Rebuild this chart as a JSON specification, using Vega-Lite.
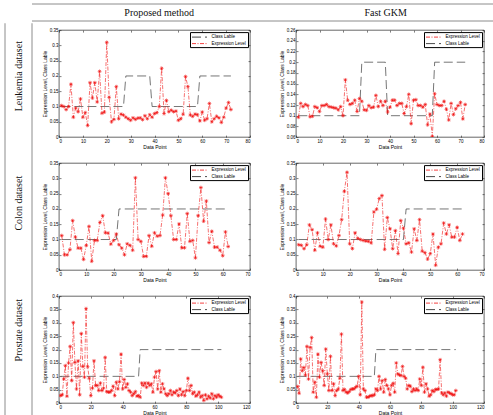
{
  "$schema": "https://vega.github.io/schema/vega-lite/v6.json",
  "background": "white",
  "padding": {"left": 4, "top": 3, "right": 0, "bottom": 0},
  "config": {
    "view": {"stroke": "#000000", "strokeWidth": 0.6},
    "axis": {"labelFont": "Liberation Sans", "labelFontSize": 4.5, "labelColor": "#000000", "titleFont": "Liberation Sans", "titleFontSize": 5, "titleFontWeight": "normal", "titleColor": "#000000", "domain": false, "grid": false, "tickSize": -2, "tickColor": "#000000", "tickWidth": 0.5, "labelPadding": 3, "titlePadding": 2},
    "legend": {"orient": "top-right", "offset": 2, "padding": 1.5, "strokeColor": "#000000", "fillColor": "#ffffff", "cornerRadius": 0, "labelFont": "Liberation Sans", "labelFontSize": 4.5, "labelColor": "#000000", "symbolType": "M-1,0L4,0", "symbolSize": 36, "symbolStrokeWidth": 0.8, "symbolFillColor": "transparent", "labelOffset": 13, "rowPadding": 0.5}
  },
  "datasets": {
    "leuC": [{"x":1,"y":0.1},{"x":27,"y":0.1},{"x":28,"y":0.2},{"x":38,"y":0.2},{"x":39,"y":0.1},{"x":58,"y":0.1},{"x":59,"y":0.2},{"x":72,"y":0.2}],
    "colCP": [{"x":1,"y":0.1},{"x":21,"y":0.1},{"x":22,"y":0.2},{"x":62,"y":0.2}],
    "colCF": [{"x":1,"y":0.1},{"x":40,"y":0.1},{"x":41,"y":0.2},{"x":62,"y":0.2}],
    "proC": [{"x":1,"y":0.1},{"x":50,"y":0.1},{"x":51,"y":0.2},{"x":102,"y":0.2}],
    "leuP": [{"x":1,"y":0.103},{"x":2,"y":0.1},{"x":3,"y":0.09},{"x":4,"y":0.1},{"x":5,"y":0.173},{"x":6,"y":0.065},{"x":7,"y":0.095},{"x":8,"y":0.083},{"x":9,"y":0.125},{"x":10,"y":0.065},{"x":11,"y":0.08},{"x":12,"y":0.038},{"x":13,"y":0.178},{"x":14,"y":0.128},{"x":15,"y":0.178},{"x":16,"y":0.115},{"x":17,"y":0.215},{"x":18,"y":0.078},{"x":19,"y":0.082},{"x":20,"y":0.31},{"x":21,"y":0.13},{"x":22,"y":0.05},{"x":23,"y":0.058},{"x":24,"y":0.165},{"x":25,"y":0.06},{"x":26,"y":0.075},{"x":27,"y":0.072},{"x":28,"y":0.065},{"x":29,"y":0.06},{"x":30,"y":0.055},{"x":31,"y":0.063},{"x":32,"y":0.058},{"x":33,"y":0.062},{"x":34,"y":0.063},{"x":35,"y":0.057},{"x":36,"y":0.07},{"x":37,"y":0.06},{"x":38,"y":0.073},{"x":39,"y":0.065},{"x":40,"y":0.077},{"x":41,"y":0.08},{"x":42,"y":0.1},{"x":43,"y":0.225},{"x":44,"y":0.077},{"x":45,"y":0.12},{"x":46,"y":0.083},{"x":47,"y":0.088},{"x":48,"y":0.083},{"x":49,"y":0.085},{"x":50,"y":0.055},{"x":51,"y":0.06},{"x":52,"y":0.075},{"x":53,"y":0.198},{"x":54,"y":0.165},{"x":55,"y":0.072},{"x":56,"y":0.068},{"x":57,"y":0.075},{"x":58,"y":0.073},{"x":59,"y":0.053},{"x":60,"y":0.082},{"x":61,"y":0.055},{"x":62,"y":0.06},{"x":63,"y":0.11},{"x":64,"y":0.05},{"x":65,"y":0.06},{"x":66,"y":0.068},{"x":67,"y":0.063},{"x":68,"y":0.048},{"x":69,"y":0.065},{"x":70,"y":0.095},{"x":71,"y":0.113},{"x":72,"y":0.09}],
    "leuF": [{"x":1,"y":0.097},{"x":2,"y":0.123},{"x":3,"y":0.117},{"x":4,"y":0.121},{"x":5,"y":0.119},{"x":6,"y":0.098},{"x":7,"y":0.099},{"x":8,"y":0.117},{"x":9,"y":0.115},{"x":10,"y":0.108},{"x":11,"y":0.119},{"x":12,"y":0.119},{"x":13,"y":0.121},{"x":14,"y":0.117},{"x":15,"y":0.116},{"x":16,"y":0.115},{"x":17,"y":0.114},{"x":18,"y":0.111},{"x":19,"y":0.117},{"x":20,"y":0.1},{"x":21,"y":0.167},{"x":22,"y":0.129},{"x":23,"y":0.121},{"x":24,"y":0.123},{"x":25,"y":0.129},{"x":26,"y":0.108},{"x":27,"y":0.132},{"x":28,"y":0.127},{"x":29,"y":0.111},{"x":30,"y":0.11},{"x":31,"y":0.119},{"x":32,"y":0.115},{"x":33,"y":0.116},{"x":34,"y":0.138},{"x":35,"y":0.117},{"x":36,"y":0.127},{"x":37,"y":0.119},{"x":38,"y":0.127},{"x":39,"y":0.107},{"x":40,"y":0.116},{"x":41,"y":0.129},{"x":42,"y":0.129},{"x":43,"y":0.119},{"x":44,"y":0.123},{"x":45,"y":0.123},{"x":46,"y":0.104},{"x":47,"y":0.117},{"x":48,"y":0.14},{"x":49,"y":0.085},{"x":50,"y":0.129},{"x":51,"y":0.13},{"x":52,"y":0.119},{"x":53,"y":0.119},{"x":54,"y":0.116},{"x":55,"y":0.121},{"x":56,"y":0.083},{"x":57,"y":0.103},{"x":58,"y":0.061},{"x":59,"y":0.141},{"x":60,"y":0.121},{"x":61,"y":0.119},{"x":62,"y":0.119},{"x":63,"y":0.127},{"x":64,"y":0.112},{"x":65,"y":0.092},{"x":66,"y":0.123},{"x":67,"y":0.102},{"x":68,"y":0.113},{"x":69,"y":0.119},{"x":70,"y":0.125},{"x":71,"y":0.094},{"x":72,"y":0.121}],
    "colP": [{"x":1,"y":0.113},{"x":2,"y":0.05},{"x":3,"y":0.05},{"x":4,"y":0.067},{"x":5,"y":0.162},{"x":6,"y":0.108},{"x":7,"y":0.072},{"x":8,"y":0.072},{"x":9,"y":0.035},{"x":10,"y":0.081},{"x":11,"y":0.143},{"x":12,"y":0.029},{"x":13,"y":0.097},{"x":14,"y":0.097},{"x":15,"y":0.156},{"x":16,"y":0.178},{"x":17,"y":0.122},{"x":18,"y":0.121},{"x":19,"y":0.085},{"x":20,"y":0.097},{"x":21,"y":0.118},{"x":22,"y":0.083},{"x":23,"y":0.072},{"x":24,"y":0.05},{"x":25,"y":0.086},{"x":26,"y":0.081},{"x":27,"y":0.065},{"x":28,"y":0.302},{"x":29,"y":0.1},{"x":30,"y":0.094},{"x":31,"y":0.045},{"x":32,"y":0.045},{"x":33,"y":0.113},{"x":34,"y":0.078},{"x":35,"y":0.122},{"x":36,"y":0.111},{"x":37,"y":0.113},{"x":38,"y":0.18},{"x":39,"y":0.302},{"x":40,"y":0.25},{"x":41,"y":0.178},{"x":42,"y":0.1},{"x":43,"y":0.1},{"x":44,"y":0.151},{"x":45,"y":0.073},{"x":46,"y":0.073},{"x":47,"y":0.185},{"x":48,"y":0.094},{"x":49,"y":0.097},{"x":50,"y":0.04},{"x":51,"y":0.178},{"x":52,"y":0.27},{"x":53,"y":0.16},{"x":54,"y":0.226},{"x":55,"y":0.09},{"x":56,"y":0.127},{"x":57,"y":0.075},{"x":58,"y":0.075},{"x":59,"y":0.065},{"x":60,"y":0.047},{"x":61,"y":0.125},{"x":62,"y":0.077}],
    "colF": [{"x":1,"y":0.083},{"x":2,"y":0.081},{"x":3,"y":0.07},{"x":4,"y":0.083},{"x":5,"y":0.148},{"x":6,"y":0.132},{"x":7,"y":0.065},{"x":8,"y":0.122},{"x":9,"y":0.078},{"x":10,"y":0.075},{"x":11,"y":0.167},{"x":12,"y":0.1},{"x":13,"y":0.148},{"x":14,"y":0.086},{"x":15,"y":0.079},{"x":16,"y":0.113},{"x":17,"y":0.165},{"x":18,"y":0.258},{"x":19,"y":0.32},{"x":20,"y":0.086},{"x":21,"y":0.07},{"x":22,"y":0.122},{"x":23,"y":0.104},{"x":24,"y":0.1},{"x":25,"y":0.097},{"x":26,"y":0.095},{"x":27,"y":0.094},{"x":28,"y":0.089},{"x":29,"y":0.19},{"x":30,"y":0.199},{"x":31,"y":0.234},{"x":32,"y":0.244},{"x":33,"y":0.068},{"x":34,"y":0.172},{"x":35,"y":0.135},{"x":36,"y":0.07},{"x":37,"y":0.129},{"x":38,"y":0.054},{"x":39,"y":0.162},{"x":40,"y":0.137},{"x":41,"y":0.086},{"x":42,"y":0.089},{"x":43,"y":0.059},{"x":44,"y":0.135},{"x":45,"y":0.097},{"x":46,"y":0.165},{"x":47,"y":0.062},{"x":48,"y":0.057},{"x":49,"y":0.036},{"x":50,"y":0.054},{"x":51,"y":0.118},{"x":52,"y":0.016},{"x":53,"y":0.075},{"x":54,"y":0.086},{"x":55,"y":0.154},{"x":56,"y":0.118},{"x":57,"y":0.148},{"x":58,"y":0.108},{"x":59,"y":0.108},{"x":60,"y":0.14},{"x":61,"y":0.097},{"x":62,"y":0.118}],
    "proP": [{"x":1,"y":0.028},{"x":2,"y":0.031},{"x":3,"y":0.09},{"x":4,"y":0.14},{"x":5,"y":0.026},{"x":6,"y":0.15},{"x":7,"y":0.212},{"x":8,"y":0.084},{"x":9,"y":0.301},{"x":10,"y":0.152},{"x":11,"y":0.053},{"x":12,"y":0.158},{"x":13,"y":0.031},{"x":14,"y":0.26},{"x":15,"y":0.137},{"x":16,"y":0.097},{"x":17,"y":0.353},{"x":18,"y":0.136},{"x":19,"y":0.093},{"x":20,"y":0.028},{"x":21,"y":0.056},{"x":22,"y":0.158},{"x":23,"y":0.066},{"x":24,"y":0.066},{"x":25,"y":0.047},{"x":26,"y":0.075},{"x":27,"y":0.047},{"x":28,"y":0.056},{"x":29,"y":0.171},{"x":30,"y":0.043},{"x":31,"y":0.041},{"x":32,"y":0.041},{"x":33,"y":0.047},{"x":34,"y":0.063},{"x":35,"y":0.028},{"x":36,"y":0.078},{"x":37,"y":0.053},{"x":38,"y":0.08},{"x":39,"y":0.183},{"x":40,"y":0.053},{"x":41,"y":0.088},{"x":42,"y":0.059},{"x":43,"y":0.072},{"x":44,"y":0.047},{"x":45,"y":0.041},{"x":46,"y":0.028},{"x":47,"y":0.035},{"x":48,"y":0.043},{"x":49,"y":0.026},{"x":50,"y":0.028},{"x":51,"y":0.022},{"x":52,"y":0.075},{"x":53,"y":0.066},{"x":54,"y":0.075},{"x":55,"y":0.059},{"x":56,"y":0.075},{"x":57,"y":0.066},{"x":58,"y":0.072},{"x":59,"y":0.041},{"x":60,"y":0.097},{"x":61,"y":0.118},{"x":62,"y":0.053},{"x":63,"y":0.121},{"x":64,"y":0.041},{"x":65,"y":0.072},{"x":66,"y":0.053},{"x":67,"y":0.035},{"x":68,"y":0.028},{"x":69,"y":0.035},{"x":70,"y":0.047},{"x":71,"y":0.031},{"x":72,"y":0.041},{"x":73,"y":0.038},{"x":74,"y":0.047},{"x":75,"y":0.028},{"x":76,"y":0.053},{"x":77,"y":0.031},{"x":78,"y":0.043},{"x":79,"y":0.028},{"x":80,"y":0.047},{"x":81,"y":0.093},{"x":82,"y":0.047},{"x":83,"y":0.066},{"x":84,"y":0.035},{"x":85,"y":0.041},{"x":86,"y":0.026},{"x":87,"y":0.031},{"x":88,"y":0.041},{"x":89,"y":0.022},{"x":90,"y":0.028},{"x":91,"y":0.01},{"x":92,"y":0.031},{"x":93,"y":0.016},{"x":94,"y":0.026},{"x":95,"y":0.019},{"x":96,"y":0.035},{"x":97,"y":0.016},{"x":98,"y":0.028},{"x":99,"y":0.022},{"x":100,"y":0.031},{"x":101,"y":0.026},{"x":102,"y":0.022}],
    "proF": [{"x":1,"y":0.062},{"x":2,"y":0.037},{"x":3,"y":0.165},{"x":4,"y":0.121},{"x":5,"y":0.133},{"x":6,"y":0.105},{"x":7,"y":0.212},{"x":8,"y":0.09},{"x":9,"y":0.208},{"x":10,"y":0.245},{"x":11,"y":0.041},{"x":12,"y":0.078},{"x":13,"y":0.022},{"x":14,"y":0.183},{"x":15,"y":0.097},{"x":16,"y":0.152},{"x":17,"y":0.121},{"x":18,"y":0.066},{"x":19,"y":0.202},{"x":20,"y":0.109},{"x":21,"y":0.047},{"x":22,"y":0.175},{"x":23,"y":0.047},{"x":24,"y":0.072},{"x":25,"y":0.028},{"x":26,"y":0.047},{"x":27,"y":0.053},{"x":28,"y":0.093},{"x":29,"y":0.258},{"x":30,"y":0.047},{"x":31,"y":0.051},{"x":32,"y":0.041},{"x":33,"y":0.038},{"x":34,"y":0.043},{"x":35,"y":0.051},{"x":36,"y":0.053},{"x":37,"y":0.053},{"x":38,"y":0.059},{"x":39,"y":0.063},{"x":40,"y":0.1},{"x":41,"y":0.031},{"x":42,"y":0.378},{"x":43,"y":0.053},{"x":44,"y":0.047},{"x":45,"y":0.022},{"x":46,"y":0.022},{"x":47,"y":0.026},{"x":48,"y":0.028},{"x":49,"y":0.028},{"x":50,"y":0.031},{"x":51,"y":0.053},{"x":52,"y":0.047},{"x":53,"y":0.1},{"x":54,"y":0.053},{"x":55,"y":0.084},{"x":56,"y":0.041},{"x":57,"y":0.088},{"x":58,"y":0.066},{"x":59,"y":0.053},{"x":60,"y":0.031},{"x":61,"y":0.066},{"x":62,"y":0.074},{"x":63,"y":0.041},{"x":64,"y":0.15},{"x":65,"y":0.109},{"x":66,"y":0.105},{"x":67,"y":0.103},{"x":68,"y":0.137},{"x":69,"y":0.1},{"x":70,"y":0.093},{"x":71,"y":0.053},{"x":72,"y":0.066},{"x":73,"y":0.063},{"x":74,"y":0.043},{"x":75,"y":0.053},{"x":76,"y":0.047},{"x":77,"y":0.053},{"x":78,"y":0.047},{"x":79,"y":0.09},{"x":80,"y":0.066},{"x":81,"y":0.134},{"x":82,"y":0.041},{"x":83,"y":0.072},{"x":84,"y":0.053},{"x":85,"y":0.026},{"x":86,"y":0.031},{"x":87,"y":0.047},{"x":88,"y":0.043},{"x":89,"y":0.051},{"x":90,"y":0.051},{"x":91,"y":0.053},{"x":92,"y":0.162},{"x":93,"y":0.038},{"x":94,"y":0.031},{"x":95,"y":0.038},{"x":96,"y":0.026},{"x":97,"y":0.041},{"x":98,"y":0.038},{"x":99,"y":0.035},{"x":100,"y":0.031},{"x":101,"y":0.031},{"x":102,"y":0.047}]
  },
  "spacing": 0,
  "resolve": {"scale": {"color": "independent", "strokeDash": "independent"}, "legend": {"color": "independent", "strokeDash": "independent"}},
  "vconcat": [
    {
      "bounds": "flush",
      "spacing": 0,
      "hconcat": [
        {"width": 27, "height": 17, "view": {"stroke": null}, "data": {"values": [{"edge": "top"}]}, "mark": {"type": "point", "opacity": 0}, "encoding": {"y": {"field": "edge", "type": "nominal", "axis": null}}},
        {
          "width": 462, "height": 17,
          "view": {"stroke": null},
          "layer": [
            {
              "data": {"values": [{"edge": "top"}, {"edge": "bottom"}]},
              "mark": {"type": "rule", "color": "#8c8c8c", "strokeWidth": 1},
              "encoding": {
                "y": {"field": "edge", "type": "nominal", "scale": {"type": "point", "domain": ["top", "mid", "bottom"], "padding": 0}, "axis": null}
              }
            },
            {
              "data": {"values": [{"method": "Proposed method"}, {"method": "Fast GKM"}]},
              "mark": {"type": "text", "font": "Liberation Serif", "fontSize": 10, "color": "#111111"},
              "encoding": {
                "x": {"field": "method", "type": "nominal", "sort": null, "scale": {"type": "point", "padding": 0.52, "align": 0.54}, "axis": null},
                "y": {"datum": "mid", "type": "nominal"},
                "text": {"field": "method"}
              }
            }
          ]
        }
      ]
    },
    {
      "spacing": 8,
      "center": true,
      "resolve": {"scale": {"color": "independent", "strokeDash": "independent"}, "legend": {"color": "independent", "strokeDash": "independent"}},
      "hconcat": [
        {
          "width": 27, "height": 399,
          "view": {"stroke": null},
          "layer": [
            {
              "data": {"values": [{"edge": "left"}, {"edge": "right"}]},
              "mark": {"type": "rule", "color": "#8c8c8c", "strokeWidth": 1},
              "encoding": {
                "x": {"field": "edge", "type": "nominal", "scale": {"type": "point", "domain": ["left", "mid", "right"], "padding": 0}, "axis": null}
              }
            },
            {
              "data": {"values": [{"dataset": "Leukemia dataset", "row": 1}, {"dataset": "Colon dataset", "row": 2}, {"dataset": "Prostate dataset", "row": 3}]},
              "mark": {"type": "text", "angle": 270, "font": "Liberation Serif", "fontSize": 10, "color": "#111111"},
              "encoding": {
                "x": {"datum": "mid", "type": "nominal"},
                "y": {"field": "row", "type": "quantitative", "scale": {"domain": [0.583, 3.725], "reverse": true, "nice": false, "zero": false}, "axis": null},
                "text": {"field": "dataset"}
              }
            }
          ]
        },
        {
          "bounds": "flush",
          "columns": 2,
          "spacing": {"row": 26, "column": 46},
          "resolve": {"scale": {"color": "independent", "strokeDash": "independent"}, "legend": {"color": "independent", "strokeDash": "independent"}},
          "concat": [
            {
              "width": 191, "height": 107,
              "resolve": {"axis": {"x": "independent", "y": "independent"}},
              "layer": [
                {"data": {"name": "leuC"}, "mark": {"type": "line", "strokeWidth": 0.6, "clip": true},
                 "encoding": {
                   "x": {"field": "x", "type": "quantitative", "scale": {"domain": [0, 80], "nice": false, "zero": false}, "axis": {"values": [0,10,20,30,40,50,60,70,80], "title": "Data Point"}},
                   "y": {"field": "y", "type": "quantitative", "scale": {"domain": [0, 0.35], "nice": false, "zero": false}, "axis": {"values": [0,0.05,0.1,0.15,0.2,0.25,0.3,0.35], "format": "~g", "title": "Expression Level, Class Lable"}},
                   "color": {"datum": "Class Lable", "type": "nominal", "scale": {"domain": ["Class Lable", "Expression Level"], "range": ["#1a1a1a", "#f01010"]}, "legend": {"title": null}},
                   "strokeDash": {"datum": "Class Lable", "type": "nominal", "scale": {"domain": ["Class Lable", "Expression Level"], "range": [[9,4],[4,1.5,1,1.5]]}, "legend": {"title": null}}
                 }},
                {"data": {"name": "leuP"}, "mark": {"type": "line", "strokeWidth": 0.6, "clip": true},
                 "encoding": {
                   "x": {"field": "x", "type": "quantitative", "axis": {"orient": "top", "values": [0,10,20,30,40,50,60,70,80], "labels": false, "title": null}},
                   "y": {"field": "y", "type": "quantitative", "axis": {"orient": "right", "values": [0,0.05,0.1,0.15,0.2,0.25,0.3,0.35], "labels": false, "title": null}},
                   "color": {"datum": "Expression Level", "type": "nominal"},
                   "strokeDash": {"datum": "Expression Level", "type": "nominal"}
                 }},
                {"data": {"name": "leuP"}, "mark": {"type": "point", "shape": "M0,-1L0,1M-1,0L1,0M-0.7,-0.7L0.7,0.7M-0.7,0.7L0.7,-0.7", "filled": false, "size": 14, "strokeWidth": 0.6, "opacity": 1, "clip": true},
                 "encoding": {
                   "x": {"field": "x", "type": "quantitative", "axis": null},
                   "y": {"field": "y", "type": "quantitative", "axis": null},
                   "color": {"datum": "Expression Level", "type": "nominal"}
                 }}
              ]
            },
            {
              "width": 188, "height": 107,
              "resolve": {"axis": {"x": "independent", "y": "independent"}},
              "layer": [
                {"data": {"name": "leuC"}, "mark": {"type": "line", "strokeWidth": 0.6, "clip": true},
                 "encoding": {
                   "x": {"field": "x", "type": "quantitative", "scale": {"domain": [0, 80], "nice": false, "zero": false}, "axis": {"values": [0,10,20,30,40,50,60,70,80], "title": "Data Point"}},
                   "y": {"field": "y", "type": "quantitative", "scale": {"domain": [0.06, 0.26], "nice": false, "zero": false}, "axis": {"values": [0.06,0.08,0.1,0.12,0.14,0.16,0.18,0.2,0.22,0.24,0.26], "format": "~g", "title": "Expression Level, Class Lable"}},
                   "color": {"datum": "Class Lable", "type": "nominal", "scale": {"domain": ["Expression Level", "Class Lable"], "range": ["#f01010", "#1a1a1a"]}, "legend": {"title": null}},
                   "strokeDash": {"datum": "Class Lable", "type": "nominal", "scale": {"domain": ["Expression Level", "Class Lable"], "range": [[4,1.5,1,1.5],[9,4]]}, "legend": {"title": null}}
                 }},
                {"data": {"name": "leuF"}, "mark": {"type": "line", "strokeWidth": 0.6, "clip": true},
                 "encoding": {
                   "x": {"field": "x", "type": "quantitative", "axis": {"orient": "top", "values": [0,10,20,30,40,50,60,70,80], "labels": false, "title": null}},
                   "y": {"field": "y", "type": "quantitative", "axis": {"orient": "right", "values": [0.06,0.08,0.1,0.12,0.14,0.16,0.18,0.2,0.22,0.24,0.26], "labels": false, "title": null}},
                   "color": {"datum": "Expression Level", "type": "nominal"},
                   "strokeDash": {"datum": "Expression Level", "type": "nominal"}
                 }},
                {"data": {"name": "leuF"}, "mark": {"type": "point", "shape": "M0,-1L0,1M-1,0L1,0M-0.7,-0.7L0.7,0.7M-0.7,0.7L0.7,-0.7", "filled": false, "size": 14, "strokeWidth": 0.6, "opacity": 1, "clip": true},
                 "encoding": {
                   "x": {"field": "x", "type": "quantitative", "axis": null},
                   "y": {"field": "y", "type": "quantitative", "axis": null},
                   "color": {"datum": "Expression Level", "type": "nominal"}
                 }}
              ]
            },
            {
              "width": 191, "height": 107,
              "resolve": {"axis": {"x": "independent", "y": "independent"}},
              "layer": [
                {"data": {"name": "colCP"}, "mark": {"type": "line", "strokeWidth": 0.6, "clip": true},
                 "encoding": {
                   "x": {"field": "x", "type": "quantitative", "scale": {"domain": [0, 70], "nice": false, "zero": false}, "axis": {"values": [0,10,20,30,40,50,60,70], "title": "Data Point"}},
                   "y": {"field": "y", "type": "quantitative", "scale": {"domain": [0, 0.35], "nice": false, "zero": false}, "axis": {"values": [0,0.05,0.1,0.15,0.2,0.25,0.3,0.35], "format": "~g", "title": "Expression Level, Class Lable"}},
                   "color": {"datum": "Class Lable", "type": "nominal", "scale": {"domain": ["Expression Level", "Class Lable"], "range": ["#f01010", "#1a1a1a"]}, "legend": {"title": null}},
                   "strokeDash": {"datum": "Class Lable", "type": "nominal", "scale": {"domain": ["Expression Level", "Class Lable"], "range": [[4,1.5,1,1.5],[9,4]]}, "legend": {"title": null}}
                 }},
                {"data": {"name": "colP"}, "mark": {"type": "line", "strokeWidth": 0.6, "clip": true},
                 "encoding": {
                   "x": {"field": "x", "type": "quantitative", "axis": {"orient": "top", "values": [0,10,20,30,40,50,60,70], "labels": false, "title": null}},
                   "y": {"field": "y", "type": "quantitative", "axis": {"orient": "right", "values": [0,0.05,0.1,0.15,0.2,0.25,0.3,0.35], "labels": false, "title": null}},
                   "color": {"datum": "Expression Level", "type": "nominal"},
                   "strokeDash": {"datum": "Expression Level", "type": "nominal"}
                 }},
                {"data": {"name": "colP"}, "mark": {"type": "point", "shape": "M0,-1L0,1M-1,0L1,0M-0.7,-0.7L0.7,0.7M-0.7,0.7L0.7,-0.7", "filled": false, "size": 14, "strokeWidth": 0.6, "opacity": 1, "clip": true},
                 "encoding": {
                   "x": {"field": "x", "type": "quantitative", "axis": null},
                   "y": {"field": "y", "type": "quantitative", "axis": null},
                   "color": {"datum": "Expression Level", "type": "nominal"}
                 }}
              ]
            },
            {
              "width": 188, "height": 107,
              "resolve": {"axis": {"x": "independent", "y": "independent"}},
              "layer": [
                {"data": {"name": "colCF"}, "mark": {"type": "line", "strokeWidth": 0.6, "clip": true},
                 "encoding": {
                   "x": {"field": "x", "type": "quantitative", "scale": {"domain": [0, 70], "nice": false, "zero": false}, "axis": {"values": [0,10,20,30,40,50,60,70], "title": "Data Point"}},
                   "y": {"field": "y", "type": "quantitative", "scale": {"domain": [0, 0.35], "nice": false, "zero": false}, "axis": {"values": [0,0.05,0.1,0.15,0.2,0.25,0.3,0.35], "format": "~g", "title": "Expression Level, Class Lable"}},
                   "color": {"datum": "Class Lable", "type": "nominal", "scale": {"domain": ["Expression Level", "Class Lable"], "range": ["#f01010", "#1a1a1a"]}, "legend": {"title": null}},
                   "strokeDash": {"datum": "Class Lable", "type": "nominal", "scale": {"domain": ["Expression Level", "Class Lable"], "range": [[4,1.5,1,1.5],[9,4]]}, "legend": {"title": null}}
                 }},
                {"data": {"name": "colF"}, "mark": {"type": "line", "strokeWidth": 0.6, "clip": true},
                 "encoding": {
                   "x": {"field": "x", "type": "quantitative", "axis": {"orient": "top", "values": [0,10,20,30,40,50,60,70], "labels": false, "title": null}},
                   "y": {"field": "y", "type": "quantitative", "axis": {"orient": "right", "values": [0,0.05,0.1,0.15,0.2,0.25,0.3,0.35], "labels": false, "title": null}},
                   "color": {"datum": "Expression Level", "type": "nominal"},
                   "strokeDash": {"datum": "Expression Level", "type": "nominal"}
                 }},
                {"data": {"name": "colF"}, "mark": {"type": "point", "shape": "M0,-1L0,1M-1,0L1,0M-0.7,-0.7L0.7,0.7M-0.7,0.7L0.7,-0.7", "filled": false, "size": 14, "strokeWidth": 0.6, "opacity": 1, "clip": true},
                 "encoding": {
                   "x": {"field": "x", "type": "quantitative", "axis": null},
                   "y": {"field": "y", "type": "quantitative", "axis": null},
                   "color": {"datum": "Expression Level", "type": "nominal"}
                 }}
              ]
            },
            {
              "width": 191, "height": 107,
              "resolve": {"axis": {"x": "independent", "y": "independent"}},
              "layer": [
                {"data": {"name": "proC"}, "mark": {"type": "line", "strokeWidth": 0.6, "clip": true},
                 "encoding": {
                   "x": {"field": "x", "type": "quantitative", "scale": {"domain": [0, 120], "nice": false, "zero": false}, "axis": {"values": [0,20,40,60,80,100,120], "title": "Data Point"}},
                   "y": {"field": "y", "type": "quantitative", "scale": {"domain": [0, 0.4], "nice": false, "zero": false}, "axis": {"values": [0,0.05,0.1,0.15,0.2,0.25,0.3,0.35,0.4], "format": "~g", "title": "Expression Level, Class Lable"}},
                   "color": {"datum": "Class Lable", "type": "nominal", "scale": {"domain": ["Expression Level", "Class Lable"], "range": ["#f01010", "#1a1a1a"]}, "legend": {"title": null}},
                   "strokeDash": {"datum": "Class Lable", "type": "nominal", "scale": {"domain": ["Expression Level", "Class Lable"], "range": [[4,1.5,1,1.5],[9,4]]}, "legend": {"title": null}}
                 }},
                {"data": {"name": "proP"}, "mark": {"type": "line", "strokeWidth": 0.6, "clip": true},
                 "encoding": {
                   "x": {"field": "x", "type": "quantitative", "axis": {"orient": "top", "values": [0,20,40,60,80,100,120], "labels": false, "title": null}},
                   "y": {"field": "y", "type": "quantitative", "axis": {"orient": "right", "values": [0,0.05,0.1,0.15,0.2,0.25,0.3,0.35,0.4], "labels": false, "title": null}},
                   "color": {"datum": "Expression Level", "type": "nominal"},
                   "strokeDash": {"datum": "Expression Level", "type": "nominal"}
                 }},
                {"data": {"name": "proP"}, "mark": {"type": "point", "shape": "M0,-1L0,1M-1,0L1,0M-0.7,-0.7L0.7,0.7M-0.7,0.7L0.7,-0.7", "filled": false, "size": 14, "strokeWidth": 0.6, "opacity": 1, "clip": true},
                 "encoding": {
                   "x": {"field": "x", "type": "quantitative", "axis": null},
                   "y": {"field": "y", "type": "quantitative", "axis": null},
                   "color": {"datum": "Expression Level", "type": "nominal"}
                 }}
              ]
            },
            {
              "width": 188, "height": 107,
              "resolve": {"axis": {"x": "independent", "y": "independent"}},
              "layer": [
                {"data": {"name": "proC"}, "mark": {"type": "line", "strokeWidth": 0.6, "clip": true},
                 "encoding": {
                   "x": {"field": "x", "type": "quantitative", "scale": {"domain": [0, 120], "nice": false, "zero": false}, "axis": {"values": [0,20,40,60,80,100,120], "title": "Data Point"}},
                   "y": {"field": "y", "type": "quantitative", "scale": {"domain": [0, 0.4], "nice": false, "zero": false}, "axis": {"values": [0,0.05,0.1,0.15,0.2,0.25,0.3,0.35,0.4], "format": "~g", "title": "Expression Level, Class Lable"}},
                   "color": {"datum": "Class Lable", "type": "nominal", "scale": {"domain": ["Expression Level", "Class Lable"], "range": ["#f01010", "#1a1a1a"]}, "legend": {"title": null}},
                   "strokeDash": {"datum": "Class Lable", "type": "nominal", "scale": {"domain": ["Expression Level", "Class Lable"], "range": [[4,1.5,1,1.5],[9,4]]}, "legend": {"title": null}}
                 }},
                {"data": {"name": "proF"}, "mark": {"type": "line", "strokeWidth": 0.6, "clip": true},
                 "encoding": {
                   "x": {"field": "x", "type": "quantitative", "axis": {"orient": "top", "values": [0,20,40,60,80,100,120], "labels": false, "title": null}},
                   "y": {"field": "y", "type": "quantitative", "axis": {"orient": "right", "values": [0,0.05,0.1,0.15,0.2,0.25,0.3,0.35,0.4], "labels": false, "title": null}},
                   "color": {"datum": "Expression Level", "type": "nominal"},
                   "strokeDash": {"datum": "Expression Level", "type": "nominal"}
                 }},
                {"data": {"name": "proF"}, "mark": {"type": "point", "shape": "M0,-1L0,1M-1,0L1,0M-0.7,-0.7L0.7,0.7M-0.7,0.7L0.7,-0.7", "filled": false, "size": 14, "strokeWidth": 0.6, "opacity": 1, "clip": true},
                 "encoding": {
                   "x": {"field": "x", "type": "quantitative", "axis": null},
                   "y": {"field": "y", "type": "quantitative", "axis": null},
                   "color": {"datum": "Expression Level", "type": "nominal"}
                 }}
              ]
            }
          ]
        }
      ]
    }
  ]
}
